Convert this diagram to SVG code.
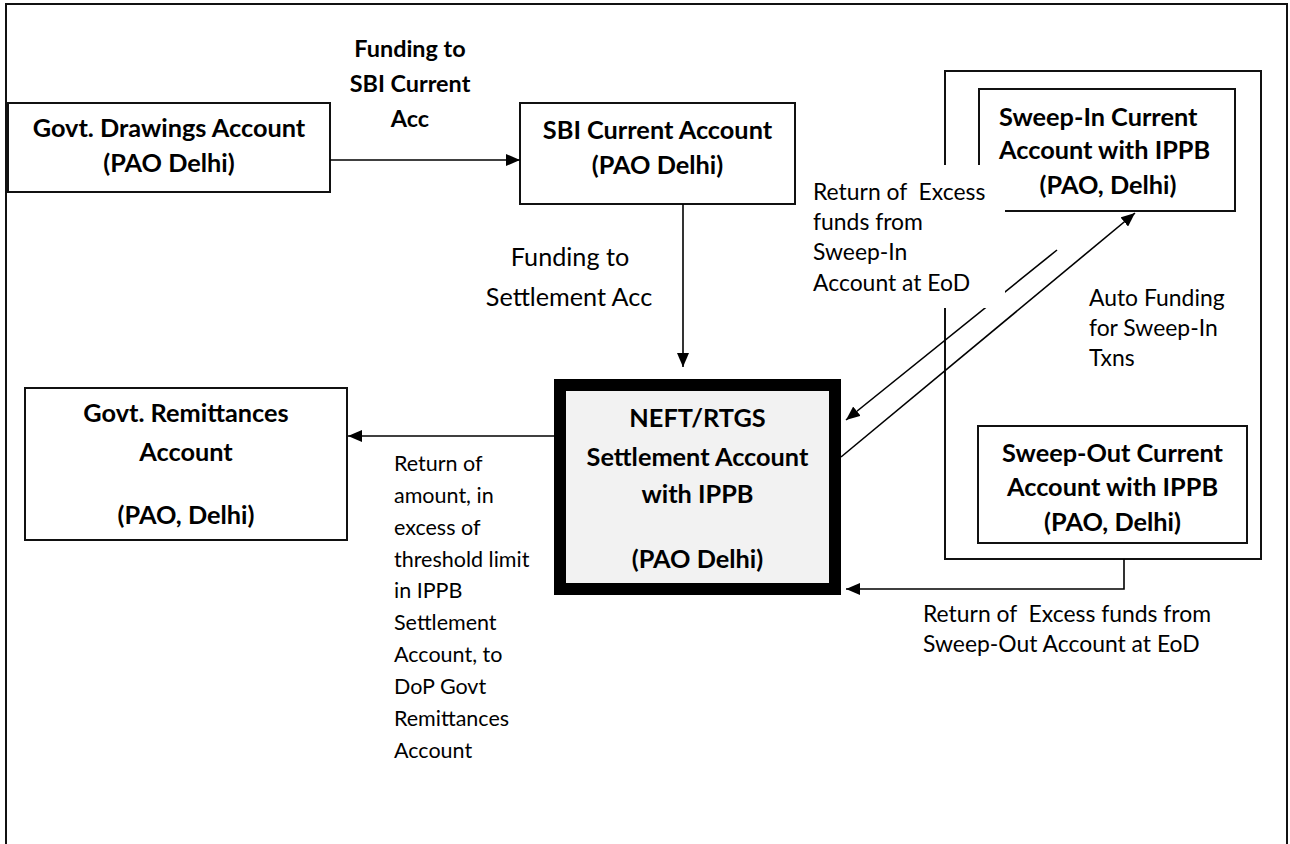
<svg xmlns="http://www.w3.org/2000/svg" width="1290" height="844" viewBox="0 0 1290 844">
<defs>
<marker id="arr" markerUnits="userSpaceOnUse" markerWidth="14" markerHeight="12" refX="14" refY="6" orient="auto">
<path d="M0,0 L14,6 L0,12 z" fill="#000"/>
</marker>
<style>
.box{fill:#fff;stroke:#111;stroke-width:2}
.nb{font-family:Lato,"Liberation Sans",sans-serif;font-weight:bold;font-size:25.3px;fill:#000;text-anchor:middle}
.lb{font-family:Lato,"Liberation Sans",sans-serif;font-weight:bold;font-size:23.4px;fill:#000;text-anchor:middle}
.lr{font-family:Lato,"Liberation Sans",sans-serif;font-size:22.9px;fill:#000}
.ls{font-family:Lato,"Liberation Sans",sans-serif;font-size:21.5px;fill:#000}
.conn line,.conn polyline{stroke:#000;stroke-width:1.6;fill:none}
</style>
</defs>
<rect x="0" y="0" width="1290" height="844" fill="#fff"/>
<rect x="6" y="4" width="1281" height="900" fill="none" stroke="#111" stroke-width="2"/>

<g id="govt-drawings">
<rect class="box" x="8" y="103" width="322" height="89"/>
<text class="nb" x="169" y="137">Govt. Drawings Account</text>
<text class="nb" x="169" y="172">(PAO Delhi)</text>
</g>

<g id="sbi-current">
<rect class="box" x="520" y="103" width="275" height="101"/>
<text class="nb" x="657.5" y="139">SBI Current Account</text>
<text class="nb" x="657.5" y="174">(PAO Delhi)</text>
</g>

<g id="neft-settlement">
<rect x="560" y="385" width="275" height="204" fill="#f2f2f2" stroke="#000" stroke-width="12"/>
<text class="nb" x="697.5" y="426.5">NEFT/RTGS</text>
<text class="nb" x="697.5" y="465.5">Settlement Account</text>
<text class="nb" x="697.5" y="502.5">with IPPB</text>
<text class="nb" x="697.5" y="567.5">(PAO Delhi)</text>
</g>

<g id="govt-remittances">
<rect class="box" x="25" y="388" width="322" height="152"/>
<text class="nb" x="186" y="422">Govt. Remittances</text>
<text class="nb" x="186" y="461">Account</text>
<text class="nb" x="186" y="524">(PAO, Delhi)</text>
</g>

<g id="sweep-group">
<rect class="box" x="945" y="71" width="316" height="488"/>
</g>

<g id="sweep-in">
<rect class="box" x="979" y="89" width="256" height="122"/>
<text class="nb" x="999" y="126" style="text-anchor:start">Sweep-In Current</text>
<text class="nb" x="999" y="159" style="text-anchor:start">Account with IPPB</text>
<text class="nb" x="1108" y="194">(PAO, Delhi)</text>
</g>

<g id="sweep-out">
<rect class="box" x="978" y="426" width="269" height="117"/>
<text class="nb" x="1112.5" y="462">Sweep-Out Current</text>
<text class="nb" x="1112.5" y="496">Account with IPPB</text>
<text class="nb" x="1112.5" y="531">(PAO, Delhi)</text>
</g>

<g id="connectors" class="conn">
<line x1="330" y1="160" x2="520" y2="160" marker-end="url(#arr)"/>
<line x1="683" y1="204" x2="683" y2="367" marker-end="url(#arr)"/>
<line x1="554" y1="436" x2="348" y2="436" marker-end="url(#arr)"/>
<line x1="841" y1="457" x2="1135" y2="213" marker-end="url(#arr)"/>
<line x1="1057" y1="250" x2="846" y2="420" marker-end="url(#arr)"/>
<polyline points="1124,559 1124,589 846,589" marker-end="url(#arr)"/>
</g>

<g id="labels">
<text class="lb" x="410" y="56.5">Funding to</text>
<text class="lb" x="410" y="91.5">SBI Current</text>
<text class="lb" x="410" y="126.5">Acc</text>

<text class="lr" x="570" y="266" style="text-anchor:middle;font-size:25.2px">Funding to</text>
<text class="lr" x="569" y="306" style="text-anchor:middle;font-size:25.2px">Settlement Acc</text>

<rect x="797" y="165" width="208" height="143" fill="#fff"/>
<text class="lr" x="813" y="200" xml:space="preserve">Return of  Excess</text>
<text class="lr" x="813" y="230">funds from</text>
<text class="lr" x="813" y="260">Sweep-In</text>
<text class="lr" x="813" y="291">Account at EoD</text>

<text class="lr" x="1089" y="306">Auto Funding</text>
<text class="lr" x="1089" y="336">for Sweep-In</text>
<text class="lr" x="1089" y="366">Txns</text>

<text class="lr" x="923" y="622" xml:space="preserve">Return of  Excess funds from</text>
<text class="lr" x="923" y="652">Sweep-Out Account at EoD</text>

<text class="ls" x="394" y="470.8">Return of</text>
<text class="ls" x="394" y="502.7">amount, in</text>
<text class="ls" x="394" y="534.6">excess of</text>
<text class="ls" x="394" y="566.5">threshold limit</text>
<text class="ls" x="394" y="598.4">in IPPB</text>
<text class="ls" x="394" y="630.3">Settlement</text>
<text class="ls" x="394" y="662.2">Account, to</text>
<text class="ls" x="394" y="694.1">DoP Govt</text>
<text class="ls" x="394" y="726">Remittances</text>
<text class="ls" x="394" y="757.9">Account</text>
</g>
</svg>
